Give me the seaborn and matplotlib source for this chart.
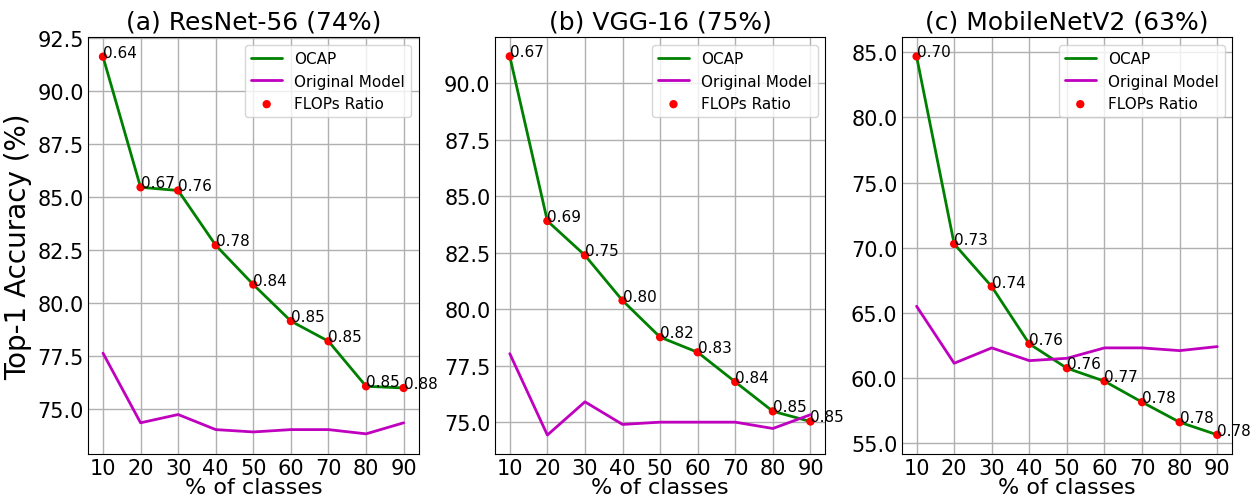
import numpy as np
import pandas as pd
import matplotlib
matplotlib.use("Agg")
import matplotlib.pyplot as plt
from matplotlib.ticker import FormatStrFormatter, MultipleLocator
import seaborn as sns

classes = [10, 20, 30, 40, 50, 60, 70, 80, 90]

titles = ["(a) ResNet-56 (74%)", "(b) VGG-16 (75%)", "(c) MobileNetV2 (63%)"]

ocap_resnet = [91.6, 85.45, 85.3, 82.72, 80.87, 79.15, 78.2, 76.08, 76.0]
orig_resnet = [77.64, 74.36, 74.75, 74.04, 73.93, 74.04, 74.04, 73.84, 74.36]
flops_resnet = ["0.64", "0.67", "0.76", "0.78", "0.84", "0.85", "0.85", "0.85", "0.88"]

ocap_vgg = [91.18, 83.9, 82.38, 80.38, 78.76, 78.09, 76.78, 75.48, 75.03]
orig_vgg = [78.03, 74.43, 75.9, 74.9, 75.0, 75.0, 75.0, 74.72, 75.33]
flops_vgg = ["0.67", "0.69", "0.75", "0.80", "0.82", "0.83", "0.84", "0.85", "0.85"]

ocap_mobile = [84.69, 70.28, 67.0, 62.6, 60.73, 59.73, 58.12, 56.58, 55.61]
orig_mobile = [65.49, 61.11, 62.29, 61.31, 61.49, 62.29, 62.29, 62.08, 62.39]
flops_mobile = ["0.70", "0.73", "0.74", "0.76", "0.76", "0.77", "0.78", "0.78", "0.78"]

ytick_steps = [2.5, 2.5, 5.0]
ylims = [(72.9, 92.52), (73.6, 92.03), (54.15, 86.17)]

panels = [
    (ocap_resnet, orig_resnet, flops_resnet),
    (ocap_vgg, orig_vgg, flops_vgg),
    (ocap_mobile, orig_mobile, flops_mobile),
]

sns.set_style("whitegrid", {
    "axes.edgecolor": "black",
    "grid.color": "#b0b0b0",
    "axes.linewidth": 1.0,
    "text.color": "black",
    "axes.labelcolor": "black",
    "xtick.color": "black",
    "ytick.color": "black",
})
plt.rcParams["font.family"] = ["DejaVu Sans"]

fig, axes = plt.subplots(1, 3, figsize=(12.6, 5.02), dpi=100)
fig.subplots_adjust(left=0.0698, right=0.978, top=0.924, bottom=0.094, wspace=0.23)

for ax, title, (ocap, orig, flops), step, lim in zip(axes, titles, panels, ytick_steps, ylims):
    df = pd.DataFrame({"classes": classes, "ocap": ocap, "orig": orig})
    sns.lineplot(data=df, x="classes", y="ocap", color="g", linewidth=2,
                 label="OCAP", ax=ax)
    sns.lineplot(data=df, x="classes", y="orig", color="m", linewidth=2,
                 label="Original Model", ax=ax)
    sns.scatterplot(data=df, x="classes", y="ocap", color="red", s=36,
                    edgecolor="none", label="FLOPs Ratio", ax=ax, zorder=3)
    for xv, yv, txt in zip(classes, ocap, flops):
        ax.text(xv, yv, txt, fontsize=11, ha="left", va="baseline",
                color="black", clip_on=False)

    ax.set_title(title, fontsize=18, color="black")
    ax.set_xlabel("% of classes", fontsize=16, labelpad=-1)
    ax.set_ylabel("")
    ax.set_xlim(6, 94)
    ax.set_ylim(*lim)
    ax.set_xticks(classes)
    ax.yaxis.set_major_locator(MultipleLocator(step))
    ax.yaxis.set_major_formatter(FormatStrFormatter("%.1f"))
    ax.tick_params(axis="both", labelsize=15, pad=3, length=0, colors="black")
    ax.grid(True, linewidth=1.0)
    for sp in ax.spines.values():
        sp.set_color("black")
    ax.legend(loc="upper right", fontsize=11, scatterpoints=1, framealpha=0.8,
              handlelength=2.0)

axes[0].set_ylabel("Top-1 Accuracy (%)", fontsize=20, color="black")

fig.savefig("out.png", dpi=100)
